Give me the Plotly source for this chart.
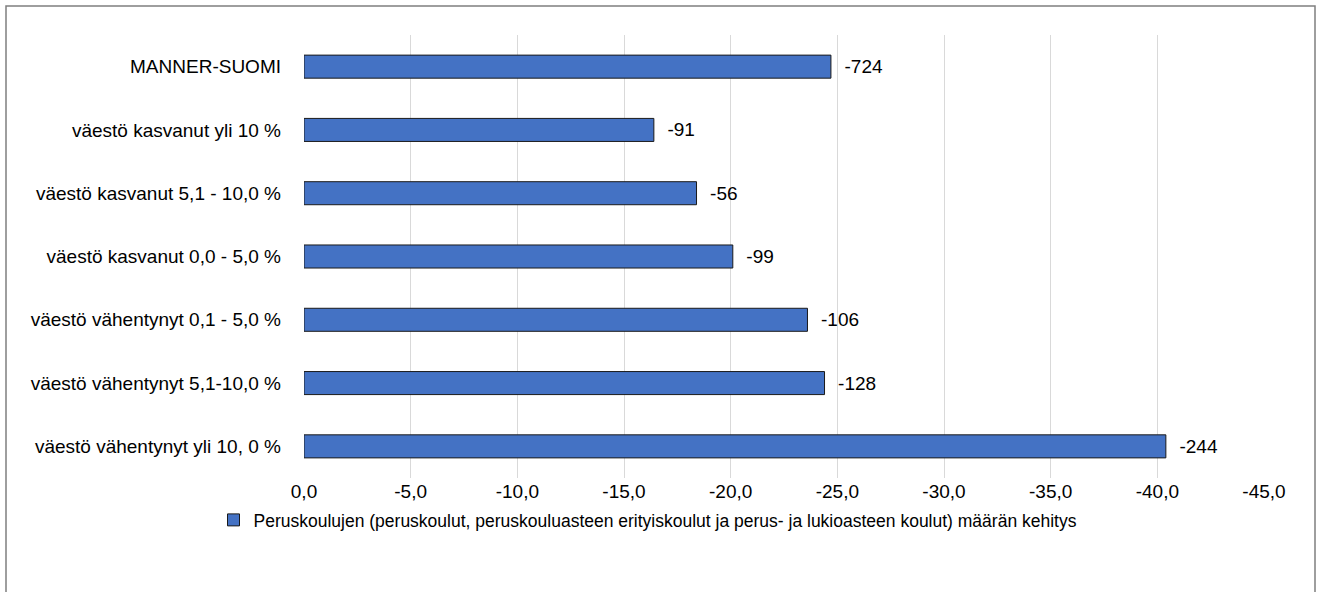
import plotly.graph_objects as go

categories = [
    "MANNER-SUOMI",
    "väestö kasvanut yli 10 %",
    "väestö kasvanut 5,1 - 10,0 %",
    "väestö kasvanut 0,0 - 5,0 %",
    "väestö vähentynyt 0,1 - 5,0 %",
    "väestö vähentynyt 5,1-10,0 %",
    "väestö vähentynyt yli 10, 0 %",
]
change_pct = [-24.7, -16.4, -18.4, -20.1, -23.6, -24.4, -40.4]
change_count = ["-724", "-91", "-56", "-99", "-106", "-128", "-244"]
tick_vals = [0, -5, -10, -15, -20, -25, -30, -35, -40, -45]
tick_text = ["0,0", "-5,0", "-10,0", "-15,0", "-20,0", "-25,0", "-30,0", "-35,0", "-40,0", "-45,0"]
series_name = ("Peruskoulujen (peruskoulut, peruskouluasteen erityiskoulut ja perus- ja "
               "lukioasteen koulut) määrän kehitys")

W, H = 1317, 592
ML, MR, MT, MB = 304, 1317 - 1264, 35, 592 - 478
PW, PH = W - ML - MR, H - MT - MB

def px_x(p):
    return (p - ML) / PW

def px_y(p):
    return (H - MB - p) / PH

font = "Liberation Sans, Arial, sans-serif"
FS = 19

fig = go.Figure()
fig.add_trace(go.Bar(
    y=categories,
    x=change_pct,
    orientation="h",
    name=series_name,
    marker=dict(color="#4472C4", line=dict(color="#1a1a1a", width=1)),
    text=["  " + t for t in change_count],
    textposition="outside",
    constraintext="none",
    textfont=dict(family=font, size=FS, color="black"),
    cliponaxis=False,
    showlegend=True,
    hoverinfo="skip",
))

fig.update_layout(
    width=W, height=H,
    margin=dict(l=ML, r=MR, t=MT, b=MB, autoexpand=False),
    paper_bgcolor="white",
    plot_bgcolor="white",
    bargap=0.636,
    font=dict(family=font, size=FS, color="black"),
    xaxis=dict(
        range=[0, -45],
        tickvals=tick_vals,
        ticktext=tick_text,
        showgrid=True,
        gridcolor="#d9d9d9",
        gridwidth=1,
        zeroline=False,
        showline=False,
        automargin=False,
        tickfont=dict(family=font, size=FS, color="black"),
    ),
    yaxis=dict(
        autorange="reversed",
        showgrid=False,
        zeroline=False,
        showline=False,
        automargin=False,
        ticklabelstandoff=22,
        tickfont=dict(family=font, size=FS, color="black"),
    ),
    legend=dict(
        orientation="h",
        x=px_x(648), xanchor="center",
        y=px_y(520), yanchor="middle",
        font=dict(family=font, size=17.5, color="black"),
        itemwidth=30,
        bgcolor="rgba(0,0,0,0)",
    ),
    shapes=[dict(
        type="rect", xref="paper", yref="paper",
        x0=px_x(6), x1=px_x(1315), y0=px_y(620), y1=px_y(6),
        line=dict(color="#7f7f7f", width=1.5),
        fillcolor="rgba(0,0,0,0)",
        layer="below",
    )],
)

fig.write_html("out.html", config={"displayModeBar": False},
               post_script="document.body.style.margin='0';")
